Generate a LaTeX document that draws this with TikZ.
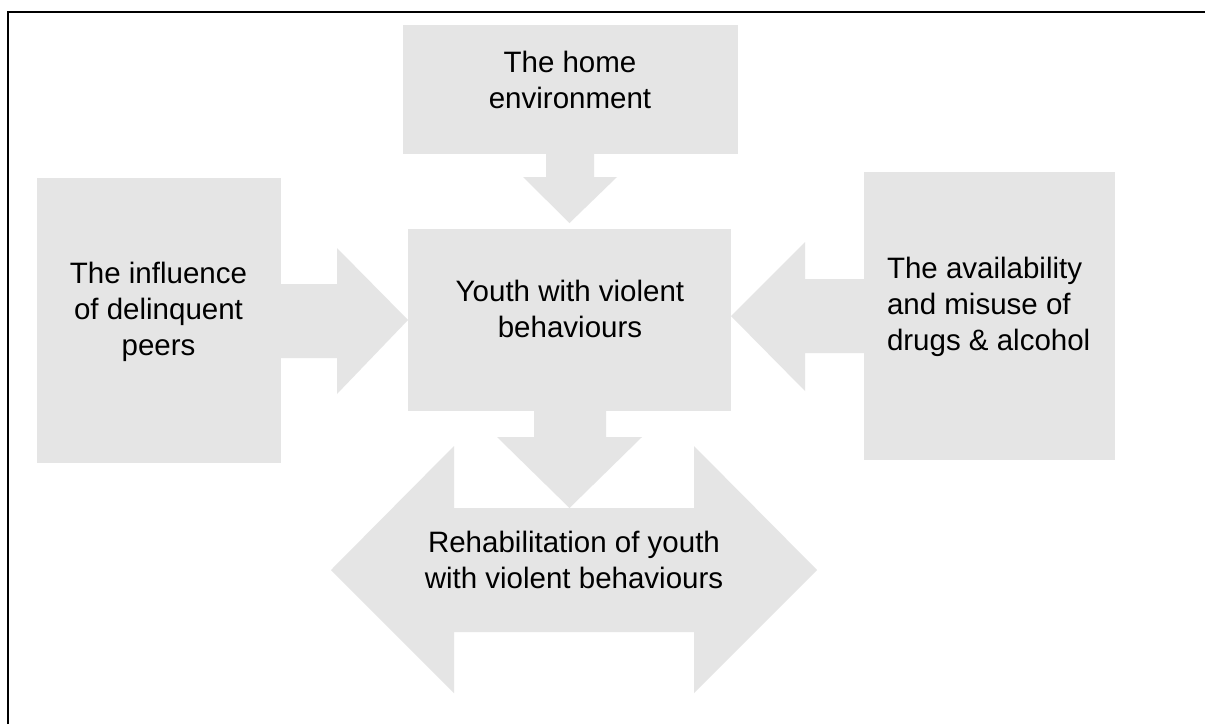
\documentclass[tikz,border=0pt]{standalone}
\usepackage{fontspec}
\setmainfont{Liberation Sans}
\usetikzlibrary{calc}

\tikzset{
  blockfill/.style={fill=black!10, draw=none},
  panel/.style={blockfill, rectangle, inner sep=0pt, outer sep=0pt},
  label text/.style={inner sep=0pt, outer sep=0pt, align=center,
    font=\fontsize{14.75pt}{18pt}\selectfont},
  frame/.style={line width=1.25pt, black, line join=miter}
}

\begin{document}
\begin{tikzpicture}[x=0.5pt, y=-0.5pt]
  % canvas
  \useasboundingbox (0,0) rectangle (1205,724);
  \fill[white] (0,0) rectangle (1205,724);

  % frame: only the top and left edges fall inside the canvas
  \draw[frame] (7.8,724) -- (7.8,12) -- (1205,12);

  % rectangular panels
  \node[panel, minimum width=167.5pt, minimum height=64.5pt] (home)  at (570.5,89.5) {};
  \node[panel, minimum width=161.5pt, minimum height=91pt]   (youth) at (569.5,320) {};
  \node[panel, minimum width=122pt,   minimum height=142.5pt] (peers) at (159,320.5) {};
  \node[panel, minimum width=125.5pt, minimum height=144pt]  (drugs) at (989.5,316) {};

  % double-headed panel for rehabilitation
  \coordinate (rehab) at (574,570);
  \fill[blockfill] (331,570) -- (454,446) -- (454,508) -- (694,508) -- (694,446)
    -- (817,570) -- (694,693) -- (694,632) -- (454,632) -- (454,693) -- cycle;
  \coordinate (rehabtop) at (569.5,508);

  % block arrow: home -> youth
  \fill[blockfill]
    ($(home.south)+(-24.5,0)$) -- ++(0,23) -- ++(-23,0)
    -- ($(youth.north)+(0,-6)$)
    -- ($(home.south)+(46.5,23)$) -- ++(-23,0) -- ($(home.south)+(23.5,0)$) -- cycle;

  % block arrow: peers -> youth
  \fill[blockfill]
    ($(peers.east)+(0,-36.5)$) -- ++(56,0) -- ++(0,-36)
    -- (youth.west)
    -- ($(peers.east)+(56,73.5)$) -- ++(0,-36) -- ($(peers.east)+(0,37.5)$) -- cycle;

  % block arrow: drugs -> youth
  \fill[blockfill]
    ($(drugs.west)+(0,-37)$) -- ++(-59,0) -- ++(0,-37)
    -- (youth.east |- drugs.west)
    -- ($(drugs.west)+(-59,75)$) -- ++(0,-38) -- ($(drugs.west)+(0,37)$) -- cycle;

  % block arrow: youth -> rehabilitation
  \fill[blockfill]
    ($(youth.south)+(-35.5,0)$) -- ++(0,26) -- ++(-37,0)
    -- (rehabtop)
    -- ($(youth.south)+(72.5,26)$) -- ++(-36,0) -- ($(youth.south)+(36.5,0)$) -- cycle;

  % texts (anchored at the baseline of the last line)
  \node[label text, anchor=base] (homeT)  at (570,108)   {The home\\environment};
  \node[label text, anchor=base] (youthT) at (570,337)  {Youth with violent\\behaviours};
  \node[label text, anchor=base] (peersT) at (158.5,355) {The influence\\of delinquent\\peers};
  \node[label text, align=left, anchor=base west] (drugsT) at (887,350)
    {The availability\\and misuse of\\drugs \& alcohol};
  \node[label text, anchor=base] (rehabT) at (574,588)
    {Rehabilitation of youth\\with violent behaviours};
\end{tikzpicture}
\end{document}
